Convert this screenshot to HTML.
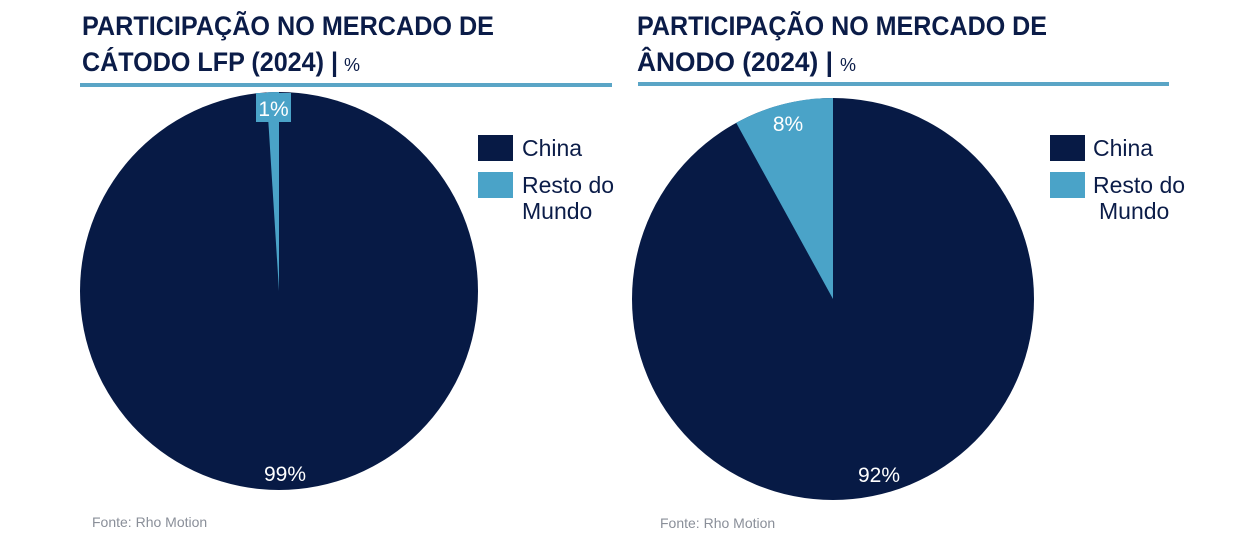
<!DOCTYPE html>
<html><head><meta charset="utf-8"><style>
html,body{margin:0;padding:0;background:#fff;}
svg{display:block;}
</style></head><body>
<svg width="1240" height="558" viewBox="0 0 1240 558" xmlns="http://www.w3.org/2000/svg" font-family="Liberation Sans, sans-serif">
<g fill="#0b1c48" font-weight="bold" font-size="27">
<text x="82" y="35" textLength="412" lengthAdjust="spacingAndGlyphs">PARTICIPAÇÃO NO MERCADO DE</text>
<text x="82" y="71" textLength="256" lengthAdjust="spacingAndGlyphs">CÁTODO LFP (2024) |</text>
<text x="344" y="71" font-weight="normal" font-size="18">%</text>
<text x="637" y="35" textLength="410" lengthAdjust="spacingAndGlyphs">PARTICIPAÇÃO NO MERCADO DE</text>
<text x="637" y="71" textLength="196" lengthAdjust="spacingAndGlyphs">ÂNODO (2024) |</text>
<text x="840" y="71" font-weight="normal" font-size="18">%</text>
</g>
<rect x="80" y="83" width="532" height="4" fill="#5aa5c6"/>
<rect x="638" y="82" width="531" height="4" fill="#5aa5c6"/>
<!-- left pie -->
<circle cx="279" cy="291" r="199" fill="#071a45"/>
<path d="M279,291 L279,92 A199,199 0 0 0 266.5,92.4 Z" fill="#4aa3c8"/>
<rect x="256" y="93" width="35" height="29" fill="#4aa3c8"/>
<text x="273.5" y="116" text-anchor="middle" fill="#fff" font-size="21">1%</text>
<text x="285" y="481" text-anchor="middle" fill="#fff" font-size="21">99%</text>
<!-- right pie -->
<circle cx="833" cy="299" r="201" fill="#071a45"/>
<path d="M833,299 L833,98 A201,201 0 0 0 736.2,122.8 Z" fill="#4aa3c8"/>
<text x="788" y="131" text-anchor="middle" fill="#fff" font-size="21">8%</text>
<text x="879" y="482" text-anchor="middle" fill="#fff" font-size="21">92%</text>
<!-- legends -->
<g font-size="23" fill="#0b1c48">
<rect x="478" y="135" width="35" height="26" fill="#071a45"/>
<text x="522" y="156">China</text>
<rect x="478" y="172" width="35" height="26" fill="#4aa3c8"/>
<text x="522" y="193">Resto do</text>
<text x="522" y="219">Mundo</text>
<rect x="1050" y="135" width="35" height="26" fill="#071a45"/>
<text x="1093" y="156">China</text>
<rect x="1050" y="172" width="35" height="26" fill="#4aa3c8"/>
<text x="1093" y="193">Resto do</text>
<text x="1099" y="219">Mundo</text>
</g>
<text x="92" y="527" font-size="14" fill="#8a8f99">Fonte: Rho Motion</text>
<text x="660" y="528" font-size="14" fill="#8a8f99">Fonte: Rho Motion</text>
</svg>
</body></html>
